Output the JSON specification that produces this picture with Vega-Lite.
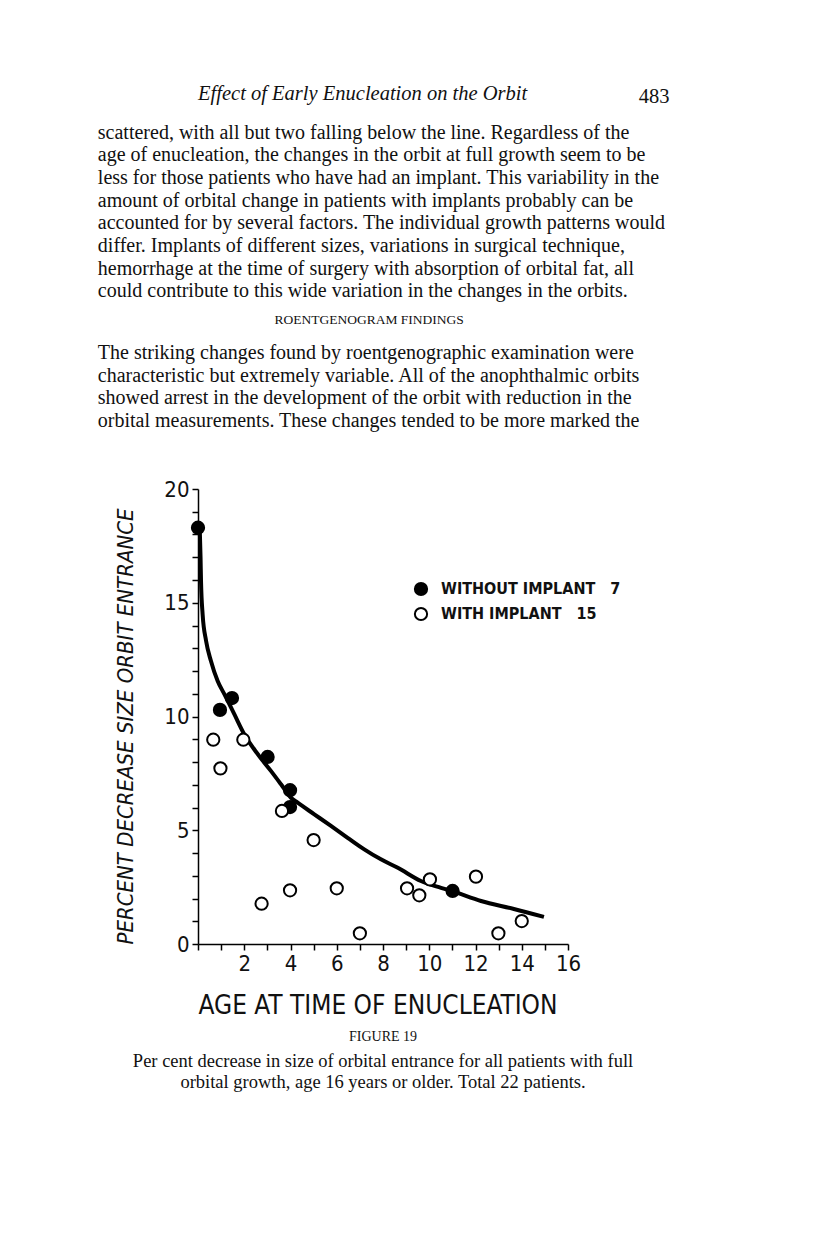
{
  "$schema": "https://vega.github.io/schema/vega-lite/v6.json",
  "background": "white",
  "padding": {"left": 97, "top": 84, "right": 5, "bottom": 5},
  "config": {
    "view": {"stroke": null},
    "title": {"color": "#111", "font": "Liberation Serif", "fontWeight": "normal"}
  },
  "datasets": {
    "pts": [
      {"age": 0.0, "pct": 18.3, "group": "WITHOUT IMPLANT"},
      {"age": 0.95, "pct": 10.29, "group": "WITHOUT IMPLANT"},
      {"age": 1.47, "pct": 10.81, "group": "WITHOUT IMPLANT"},
      {"age": 3.01, "pct": 8.22, "group": "WITHOUT IMPLANT"},
      {"age": 3.98, "pct": 6.76, "group": "WITHOUT IMPLANT"},
      {"age": 3.98, "pct": 6.02, "group": "WITHOUT IMPLANT"},
      {"age": 11.01, "pct": 2.33, "group": "WITHOUT IMPLANT"},
      {"age": 0.66, "pct": 8.98, "group": "WITH IMPLANT"},
      {"age": 0.97, "pct": 7.72, "group": "WITH IMPLANT"},
      {"age": 1.96, "pct": 8.98, "group": "WITH IMPLANT"},
      {"age": 3.63, "pct": 5.85, "group": "WITH IMPLANT"},
      {"age": 5.0, "pct": 4.57, "group": "WITH IMPLANT"},
      {"age": 2.75, "pct": 1.77, "group": "WITH IMPLANT"},
      {"age": 3.98, "pct": 2.36, "group": "WITH IMPLANT"},
      {"age": 6.0, "pct": 2.45, "group": "WITH IMPLANT"},
      {"age": 7.0, "pct": 0.47, "group": "WITH IMPLANT"},
      {"age": 9.04, "pct": 2.45, "group": "WITH IMPLANT"},
      {"age": 9.57, "pct": 2.14, "group": "WITH IMPLANT"},
      {"age": 10.03, "pct": 2.84, "group": "WITH IMPLANT"},
      {"age": 12.02, "pct": 2.96, "group": "WITH IMPLANT"},
      {"age": 12.99, "pct": 0.47, "group": "WITH IMPLANT"},
      {"age": 14.0, "pct": 1.01, "group": "WITH IMPLANT"}
    ],
    "curve": [
      {"age": 0.08, "pct": 18.1},
      {"age": 0.11, "pct": 17.0},
      {"age": 0.13, "pct": 15.96},
      {"age": 0.2, "pct": 14.49},
      {"age": 0.35, "pct": 13.32},
      {"age": 0.56, "pct": 12.44},
      {"age": 0.85, "pct": 11.56},
      {"age": 1.14, "pct": 10.98},
      {"age": 1.57, "pct": 10.1},
      {"age": 2.0, "pct": 9.22},
      {"age": 2.58, "pct": 8.35},
      {"age": 3.16, "pct": 7.6},
      {"age": 3.59, "pct": 7.02},
      {"age": 4.02, "pct": 6.43},
      {"age": 4.31, "pct": 6.21},
      {"age": 5.03, "pct": 5.7},
      {"age": 5.75, "pct": 5.19},
      {"age": 6.47, "pct": 4.67},
      {"age": 7.19, "pct": 4.16},
      {"age": 7.91, "pct": 3.72},
      {"age": 8.64, "pct": 3.35},
      {"age": 9.64, "pct": 2.77},
      {"age": 10.51, "pct": 2.47},
      {"age": 11.03, "pct": 2.31},
      {"age": 12.24, "pct": 1.89},
      {"age": 13.66, "pct": 1.54},
      {"age": 14.96, "pct": 1.19}
    ]
  },
  "title": {"text": "483", "anchor": "end", "frame": "bounds", "fontSize": 20.5, "offset": -23, "dx": 4},
  "vconcat": [
    {
      "title": {"text": "Effect of Early Enucleation on the Orbit", "fontStyle": "italic", "anchor": "middle", "fontSize": 20.5, "dx": -19, "offset": 18},
      "vconcat": [
        {
          "title": {
            "text": [
              "scattered, with all but two falling below the line. Regardless of the",
              "age of enucleation, the changes in the orbit at full growth seem to be",
              "less for those patients who have had an implant. This variability in the",
              "amount of orbital change in patients with implants probably can be",
              "accounted for by several factors. The individual growth patterns would",
              "differ. Implants of different sizes, variations in surgical technique,",
              "hemorrhage at the time of surgery with absorption of orbital fat, all",
              "could contribute to this wide variation in the changes in the orbits."
            ],
            "anchor": "start", "fontSize": 20, "lineHeight": 22.7, "offset": 12
          },
          "vconcat": [
            {
              "title": {"text": "ROENTGENOGRAM FINDINGS", "anchor": "middle", "fontSize": 13.5, "offset": 16},
              "vconcat": [
                {
                  "title": {
                    "text": [
                      "\u00a0\u00a0\u00a0The striking changes found by roentgenographic examination were",
                      "characteristic but extremely variable. All of the anophthalmic orbits",
                      "showed arrest in the development of the orbit with reduction in the",
                      "orbital measurements. These changes tended to be more marked the"
                    ],
                    "anchor": "start", "fontSize": 20, "lineHeight": 22.7, "offset": 47, "dx": -17
                  },
                  "vconcat": [
                    {
                      "width": 370,
                      "height": 455,
                      "title": {
                        "text": "FIGURE 19",
                        "orient": "bottom",
                        "anchor": "middle",
                        "fontSize": 14,
                        "offset": 12,
                        "subtitle": [
                          "Per cent decrease in size of orbital entrance for all patients with full",
                          "orbital growth, age 16 years or older. Total 22 patients."
                        ],
                        "subtitleFont": "Liberation Serif",
                        "subtitleFontSize": 18.5,
                        "subtitleLineHeight": 21,
                        "subtitlePadding": 8,
                        "subtitleColor": "#111"
                      },
                      "encoding": {
                        "x": {
                          "field": "age", "type": "quantitative",
                          "scale": {"domain": [0, 16], "nice": false},
                          "axis": {
                            "title": "AGE AT TIME OF ENUCLEATION",
                            "values": [0,1,2,3,4,5,6,7,8,9,10,11,12,13,14,15,16],
                            "labelExpr": "datum.value % 2 === 0 && datum.value > 0 ? datum.label : ''",
                            "grid": false,
                            "domainColor": "black", "domainWidth": 1.5,
                            "tickColor": "black", "tickWidth": 1.5, "tickSize": 6,
                            "labelFont": "'Liberation Sans Narrow', 'DejaVu Sans Condensed', 'Roboto Condensed', 'Open Sans Condensed', sans-serif", "labelFontSize": 22, "labelColor": "#111",
                            "labelPadding": 3, "labelFlush": false, "labelOverlap": false,
                            "titleFont": "'Liberation Sans Narrow', 'DejaVu Sans Condensed', 'Roboto Condensed', 'Open Sans Condensed', sans-serif", "titleFontSize": 26, "titleFontWeight": "normal", "titleColor": "#111",
                            "titleAnchor": "start", "titlePadding": 18
                          }
                        },
                        "y": {
                          "field": "pct", "type": "quantitative",
                          "scale": {"domain": [0, 20], "nice": false},
                          "axis": {
                            "title": "PERCENT DECREASE SIZE ORBIT ENTRANCE",
                            "values": [0,1,2,3,4,5,6,7,8,9,10,11,12,13,14,15,16,17,18,19,20],
                            "labelExpr": "datum.value % 5 === 0 ? datum.label : ''",
                            "grid": false,
                            "domainColor": "black", "domainWidth": 1.5,
                            "tickColor": "black", "tickWidth": 1.5, "tickSize": 6,
                            "labelFont": "'Liberation Sans Narrow', 'DejaVu Sans Condensed', 'Roboto Condensed', 'Open Sans Condensed', sans-serif", "labelFontSize": 22, "labelColor": "#111",
                            "labelPadding": 3, "labelFlush": false, "labelOverlap": false,
                            "titleFont": "'Liberation Sans Narrow', 'DejaVu Sans Condensed', 'Roboto Condensed', 'Open Sans Condensed', sans-serif", "titleFontSize": 22, "titleFontStyle": "italic", "titleFontWeight": "normal", "titleColor": "#111",
                            "titleAnchor": "start", "titlePadding": 26
                          }
                        }
                      },
                      "layer": [
                        {
                          "data": {"name": "curve"},
                          "mark": {"type": "line", "color": "black", "strokeWidth": 4, "interpolate": "monotone"}
                        },
                        {
                          "data": {"name": "pts"},
                          "mark": {"type": "point", "shape": "circle", "size": 150, "stroke": "black", "strokeWidth": 2, "opacity": 1},
                          "encoding": {
                            "fill": {
                              "field": "group", "type": "nominal",
                              "scale": {"domain": ["WITHOUT IMPLANT", "WITH IMPLANT"], "range": ["black", "white"]},
                              "legend": {
                                "title": null, "orient": "none", "legendX": 215, "legendY": 92,
                                "labelFont": "'Liberation Sans Narrow', 'DejaVu Sans Condensed', 'Roboto Condensed', 'Open Sans Condensed', sans-serif", "labelFontSize": 16, "labelFontWeight": "bold", "labelColor": "#111",
                                "labelLimit": 400,
                                "labelExpr": "datum.label === 'WITHOUT IMPLANT' ? 'WITHOUT IMPLANT\u00a0\u00a0\u00a07' : 'WITH IMPLANT\u00a0\u00a0\u00a015'",
                                "symbolType": "circle", "symbolSize": 150, "symbolStrokeColor": "black", "symbolStrokeWidth": 2,
                                "labelOffset": 12, "rowPadding": 3
                              }
                            }
                          }
                        }
                      ]
                    }
                  ]
                }
              ]
            }
          ]
        }
      ]
    }
  ]
}
